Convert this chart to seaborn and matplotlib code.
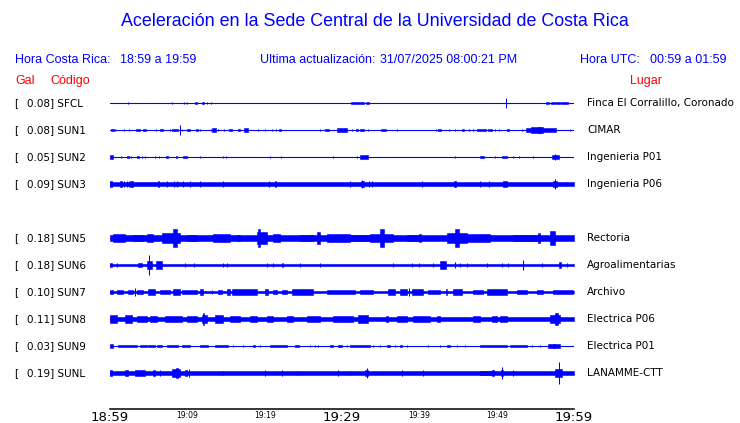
import numpy as np
import pandas as pd
import matplotlib
matplotlib.use("Agg")
import matplotlib.pyplot as plt
import matplotlib.transforms as mtransforms
import seaborn as sns

# stations, peak acceleration (Gal) and places
codes = ["SFCL", "SUN1", "SUN2", "SUN3", "SUN5", "SUN6", "SUN7", "SUN8", "SUN9", "SUNL"]
peak_gal = [0.08, 0.08, 0.05, 0.09, 0.18, 0.18, 0.10, 0.11, 0.03, 0.19]
places = ["Finca El Corralillo, Coronado", "CIMAR", "Ingenieria P01", "Ingenieria P06",
          "Rectoria", "Agroalimentarias", "Archivo", "Electrica P06", "Electrica P01",
          "LANAMME-CTT"]
# half amplitude of the continuous noise band (Gal)
base_gal = [0.0, 0.0, 0.0, 0.034, 0.055, 0.022, 0.022, 0.04, 0.0, 0.03]

# bursts: (start minute, end minute, half amplitude Gal), minutes after 18:59
sfcl_bursts = [(2.3, 2.3, 0.02), (8.0, 8.0, 0.022), (9.6, 9.6, 0.022), (9.9, 9.9, 0.015),
               (11.0, 11.3, 0.022), (11.9, 12.2, 0.022), (12.5, 12.5, 0.015), (13.1, 13.1, 0.015),
               (31.2, 32.8, 0.022), (33.1, 33.5, 0.022), (51.2, 51.2, 0.08), (56.4, 56.8, 0.02),
               (57.0, 57.5, 0.022), (57.7, 58.2, 0.022), (58.3, 59.2, 0.025)]
sun1_bursts = [(0.1, 0.5, 0.022), (0.7, 0.7, 0.015), (1.8, 1.8, 0.012), (2.5, 2.5, 0.012),
               (3.3, 3.9, 0.022), (4.3, 4.6, 0.022), (5.9, 5.9, 0.012), (6.5, 6.8, 0.022),
               (7.7, 7.7, 0.012), (8.0, 8.75, 0.022), (9.0, 9.0, 0.08), (9.35, 9.35, 0.02),
               (10.0, 10.4, 0.022), (11.1, 11.35, 0.022), (11.6, 11.6, 0.018), (13.0, 13.0, 0.015),
               (13.2, 13.75, 0.03), (14.0, 14.0, 0.018), (14.7, 14.7, 0.015), (15.4, 15.8, 0.022),
               (16.5, 16.8, 0.022), (17.3, 17.8, 0.03), (19.2, 19.2, 0.012), (20.0, 20.0, 0.012),
               (21.0, 21.0, 0.018), (21.5, 21.5, 0.015), (21.8, 22.1, 0.022), (27.2, 27.2, 0.012),
               (27.8, 28.3, 0.022), (29.4, 30.7, 0.03), (31.25, 31.25, 0.015), (31.8, 32.1, 0.018),
               (32.3, 32.85, 0.022), (33.3, 33.3, 0.015), (35.0, 35.65, 0.022), (37.1, 37.1, 0.012),
               (42.1, 42.1, 0.015), (42.45, 42.75, 0.022), (43.9, 43.9, 0.015), (44.6, 44.6, 0.015),
               (45.5, 45.8, 0.022), (46.45, 46.45, 0.012), (47.0, 47.0, 0.015), (47.5, 48.6, 0.022),
               (48.9, 49.35, 0.022), (49.8, 49.8, 0.015), (50.3, 50.3, 0.015), (51.3, 51.6, 0.018),
               (53.3, 53.3, 0.012), (53.75, 54.5, 0.037), (54.5, 56.0, 0.045), (55.3, 55.7, 0.06),
               (56.0, 57.7, 0.03), (59.5, 59.5, 0.012)]
sun2_bursts = [(0.0, 0.45, 0.03), (1.4, 1.4, 0.015), (2.2, 2.45, 0.022), (2.7, 2.7, 0.018),
               (3.5, 3.8, 0.018), (4.1, 4.1, 0.015), (4.55, 4.55, 0.015), (5.8, 5.8, 0.015),
               (6.3, 6.3, 0.015), (7.3, 7.45, 0.022), (8.5, 8.6, 0.022), (9.5, 9.95, 0.022),
               (11.7, 11.7, 0.022), (14.65, 14.65, 0.015), (15.05, 15.05, 0.015), (20.7, 20.7, 0.015),
               (22.1, 22.1, 0.022), (28.8, 28.8, 0.012), (32.0, 32.0, 0.018), (32.3, 33.35, 0.03),
               (44.65, 44.65, 0.015), (47.9, 48.3, 0.018), (49.8, 49.8, 0.015), (50.7, 51.3, 0.022),
               (52.15, 52.15, 0.012), (52.85, 52.85, 0.012), (54.65, 54.65, 0.012),
               (57.15, 58.0, 0.035), (57.6, 57.6, 0.048)]
sun3_bursts = [(0.0, 0.3, 0.06), (1.25, 1.5, 0.044), (1.8, 1.8, 0.044), (2.15, 2.15, 0.044),
               (2.45, 2.45, 0.044), (2.6, 2.95, 0.052), (4.2, 4.2, 0.04), (4.5, 4.5, 0.04),
               (5.8, 5.8, 0.04), (6.2, 6.3, 0.044), (7.35, 7.35, 0.044), (8.3, 8.3, 0.044),
               (8.6, 8.6, 0.044), (9.5, 9.5, 0.044), (10.4, 10.4, 0.044), (11.7, 11.7, 0.044),
               (14.65, 14.65, 0.044), (20.6, 20.6, 0.044), (21.3, 21.5, 0.044), (31.0, 31.0, 0.044),
               (32.4, 32.85, 0.05), (32.6, 32.6, 0.07), (33.5, 33.5, 0.044), (33.9, 33.9, 0.044),
               (40.3, 40.3, 0.044), (44.5, 44.7, 0.044), (47.9, 47.9, 0.044), (49.05, 49.05, 0.044),
               (50.85, 51.3, 0.052), (57.3, 57.8, 0.05), (57.55, 57.55, 0.09), (59.05, 59.05, 0.03)]
sun5_bursts = [(0.4, 1.95, 0.067), (3.0, 4.25, 0.06), (4.8, 5.55, 0.074), (6.7, 9.05, 0.089),
               (8.2, 8.6, 0.155), (9.95, 11.25, 0.06), (13.3, 15.5, 0.067), (16.4, 16.8, 0.06),
               (19.0, 20.3, 0.1), (19.1, 19.4, 0.15), (21.1, 22.0, 0.067), (24.6, 26.25, 0.06),
               (26.75, 27.15, 0.1), (28.05, 31.0, 0.067), (31.0, 33.6, 0.052), (33.6, 36.6, 0.074),
               (34.9, 35.4, 0.15), (38.4, 40.1, 0.06), (40.0, 40.2, 0.074), (43.6, 46.2, 0.089),
               (44.6, 45.1, 0.15), (46.2, 48.75, 0.067), (48.75, 49.15, 0.074), (52.1, 55.6, 0.052),
               (55.4, 55.6, 0.089), (56.9, 57.55, 0.12)]
sun6_bursts = [(0.0, 0.25, 0.037), (0.95, 0.95, 0.037), (3.6, 4.15, 0.037), (4.8, 5.45, 0.074),
               (5.1, 5.1, 0.18), (5.95, 6.7, 0.067), (9.7, 9.7, 0.03), (10.8, 10.8, 0.037),
               (14.65, 14.65, 0.03), (15.1, 15.1, 0.03), (20.25, 20.25, 0.037), (21.1, 21.1, 0.037),
               (22.2, 22.4, 0.037), (24.55, 24.55, 0.03), (27.15, 27.15, 0.037), (36.6, 36.6, 0.03),
               (39.0, 39.0, 0.03), (39.95, 39.95, 0.03), (41.8, 41.8, 0.03), (42.65, 43.45, 0.067),
               (44.6, 44.6, 0.059), (45.25, 45.25, 0.03), (46.1, 46.1, 0.03), (48.7, 48.7, 0.03),
               (50.65, 50.65, 0.03), (51.5, 51.5, 0.03), (53.35, 53.35, 0.089), (55.8, 55.8, 0.03),
               (58.1, 58.3, 0.052), (59.05, 59.05, 0.03)]
sun7_bursts = [(0.0, 0.4, 0.037), (0.9, 1.7, 0.037), (2.3, 3.0, 0.037), (3.2, 3.2, 0.074),
               (3.5, 4.25, 0.037), (4.9, 5.8, 0.044), (6.45, 7.75, 0.037), (8.15, 9.05, 0.052),
               (9.3, 11.25, 0.037), (11.6, 12.0, 0.044), (13.15, 13.15, 0.037), (13.95, 14.5, 0.037),
               (15.1, 15.5, 0.059), (15.8, 19.0, 0.044), (20.05, 20.4, 0.044), (21.1, 21.6, 0.037),
               (22.25, 22.9, 0.037), (23.55, 26.25, 0.044), (28.05, 31.7, 0.037), (32.35, 34.0, 0.037),
               (35.95, 36.85, 0.044), (37.5, 38.4, 0.044), (38.7, 38.7, 0.074), (39.05, 40.5, 0.044),
               (41.1, 42.65, 0.037), (43.5, 43.6, 0.059), (44.35, 45.5, 0.044), (46.95, 48.25, 0.037),
               (48.75, 51.35, 0.044), (52.6, 53.9, 0.037), (55.2, 56.0, 0.037), (57.3, 59.85, 0.037)]
sun8_bursts = [(0.0, 0.9, 0.074), (1.95, 2.85, 0.067), (3.5, 4.8, 0.052), (5.2, 6.1, 0.052),
               (7.1, 9.3, 0.059), (9.95, 11.25, 0.052), (11.9, 12.55, 0.067), (12.0, 12.2, 0.1),
               (13.6, 14.6, 0.067), (15.5, 16.8, 0.044), (18.1, 19.0, 0.059), (20.3, 21.1, 0.044),
               (22.9, 23.65, 0.044), (25.45, 27.15, 0.059), (28.85, 29.75, 0.059), (29.75, 31.4, 0.052),
               (32.05, 33.35, 0.067), (35.7, 35.9, 0.052), (37.1, 38.4, 0.044), (39.2, 41.4, 0.044),
               (42.3, 42.65, 0.059), (46.95, 47.85, 0.044), (49.4, 50.05, 0.059), (50.45, 51.35, 0.052),
               (56.9, 58.2, 0.067), (57.6, 57.9, 0.096)]
sun9_bursts = [(0.0, 0.4, 0.037), (1.05, 3.5, 0.022), (3.9, 4.8, 0.022), (4.9, 5.8, 0.022),
               (6.1, 6.7, 0.022), (7.35, 8.8, 0.022), (9.3, 10.35, 0.022), (11.65, 12.65, 0.022),
               (13.6, 15.25, 0.022), (15.9, 15.9, 0.018), (17.2, 17.2, 0.018), (18.5, 18.75, 0.018),
               (19.4, 19.4, 0.018), (20.7, 22.9, 0.022), (23.9, 24.45, 0.022), (25.85, 25.85, 0.018),
               (26.5, 26.5, 0.018), (26.9, 26.9, 0.018), (28.45, 28.85, 0.018), (29.5, 30.0, 0.018),
               (30.65, 30.65, 0.018), (31.0, 33.6, 0.022), (34.0, 34.0, 0.018), (34.9, 34.9, 0.018),
               (35.8, 36.2, 0.018), (36.85, 36.85, 0.018), (37.5, 37.75, 0.018), (38.4, 38.4, 0.018),
               (41.1, 41.1, 0.018), (42.65, 42.65, 0.018), (43.6, 43.95, 0.018), (44.85, 44.85, 0.018),
               (45.9, 45.9, 0.018), (47.85, 51.35, 0.022), (51.7, 53.9, 0.022), (54.55, 54.55, 0.018),
               (55.6, 55.6, 0.018), (56.65, 58.2, 0.03), (57.3, 57.6, 0.037)]
sunl_bursts = [(0.0, 0.25, 0.06), (1.95, 2.35, 0.044), (3.25, 4.5, 0.044), (5.55, 5.8, 0.044),
               (6.45, 6.45, 0.044), (8.0, 9.05, 0.074), (8.5, 8.8, 0.089), (9.7, 9.95, 0.044),
               (10.25, 10.25, 0.067), (14.65, 14.65, 0.037), (20.05, 20.05, 0.044), (22.2, 22.2, 0.044),
               (24.15, 24.15, 0.037), (29.5, 29.5, 0.044), (31.0, 31.0, 0.037), (33.0, 33.35, 0.05),
               (33.2, 33.2, 0.089), (37.7, 37.7, 0.044), (40.5, 40.5, 0.052), (47.85, 49.5, 0.037),
               (49.4, 49.7, 0.052), (50.55, 50.8, 0.06), (50.7, 50.7, 0.11), (52.15, 52.15, 0.052),
               (57.55, 58.45, 0.074), (58.1, 58.1, 0.19)]
bursts = [sfcl_bursts, sun1_bursts, sun2_bursts, sun3_bursts, sun5_bursts,
          sun6_bursts, sun7_bursts, sun8_bursts, sun9_bursts, sunl_bursts]

tick_min = [0, 5, 10, 15, 20, 25, 30, 35, 40, 45, 50, 55, 60]
tick_labels = ["18:59", "", "19:09", "", "19:19", "", "19:29", "", "19:39", "", "19:49", "", "19:59"]

# layout
row_slot = [0, 1, 2, 3, 5, 6, 7, 8, 9, 10]   # SUN4 row left empty
SCALE = 2.15                                   # row units per Gal
BLUE, RED = "#0000ff", "#ff0000"
W, H = 740, 423

sns.set_style("white")
plt.rcParams["font.family"] = ["DejaVu Sans"]

fig = plt.figure(figsize=(W / 100, H / 100), dpi=100)
ax = fig.add_axes([110 / W, (H - 409) / H, 464 / W, 333 / H])

# thin baseline of every trace
base_df = pd.DataFrame({
    "station": np.repeat(codes, 2),
    "minute": [0, 60] * len(codes),
    "row": np.repeat(row_slot, 2),
})
sns.lineplot(data=base_df, x="minute", y="row", units="station", estimator=None,
             color=BLUE, lw=0.8, sort=False, ax=ax, legend=False)

for slot, base, bl in zip(row_slot, base_gal, bursts):
    if base > 0:
        ax.fill_between([0, 60], slot - base * SCALE, slot + base * SCALE,
                        color=BLUE, lw=0.4)
    for t0, t1, amp in bl:
        ax.fill_between([t0, t1], slot - amp * SCALE, slot + amp * SCALE,
                        color=BLUE, lw=0.75 if t0 == t1 else 0.4)

ax.set_xlim(0, 60)
ax.set_ylim(409 / 27 - 103 / 27, -1)
ax.set_xlabel("")
ax.set_ylabel("")
ax.set_yticks([])
for s in ["left", "top", "right"]:
    ax.spines[s].set_visible(False)
ax.spines["bottom"].set_linewidth(1.1)
ax.spines["bottom"].set_color("black")
ax.set_xticks(tick_min)
ax.set_xticklabels(tick_labels)
ax.tick_params(axis="x", direction="in", length=6.5, width=0.9, pad=1.5, colors="black")
for lab in ax.get_xticklabels():
    lab.set_fontsize(9.5 if lab.get_text() in ("18:59", "19:29", "19:59") else 5.5)

def fx(px):
    return px / W

def fy(py):
    return 1 - py / H

head = ["Liberation Sans", "DejaVu Sans"]
fig.text(fx(375), fy(22), "Aceleración en la Sede Central de la Universidad de Costa Rica",
         ha="center", va="center", color=BLUE, fontsize=12.9, family=head)
fig.text(fx(15), fy(60), "Hora Costa Rica:", va="center", color=BLUE, fontsize=9, family=head)
fig.text(fx(120), fy(60), "18:59 a 19:59", va="center", color=BLUE, fontsize=9, family=head)
fig.text(fx(260), fy(60), "Ultima actualización:", va="center", color=BLUE, fontsize=9, family=head)
fig.text(fx(380), fy(60), "31/07/2025 08:00:21 PM", va="center", color=BLUE, fontsize=9, family=head)
fig.text(fx(580), fy(60), "Hora UTC:", va="center", color=BLUE, fontsize=9, family=head)
fig.text(fx(650), fy(60), "00:59 a 01:59", va="center", color=BLUE, fontsize=9, family=head)
fig.text(fx(15), fy(81), "Gal", va="center", color=RED, fontsize=9, family=head)
fig.text(fx(50), fy(81), "Código", va="center", color=RED, fontsize=9, family=head)
fig.text(fx(630), fy(81), "Lugar", va="center", color=RED, fontsize=9, family=head)

trans = mtransforms.blended_transform_factory(fig.transFigure, ax.transData)
for slot, g, code, place in zip(row_slot, peak_gal, codes, places):
    ax.text(fx(14), slot, "[", transform=trans, va="center", fontsize=7.5, color="black")
    ax.text(fx(27), slot, f"{g:.2f}] {code}", transform=trans, va="center",
            fontsize=7.5, color="black")
    ax.text(fx(587), slot, place, transform=trans, va="center", fontsize=7.5, color="black")

fig.savefig("out.png", dpi=100)
